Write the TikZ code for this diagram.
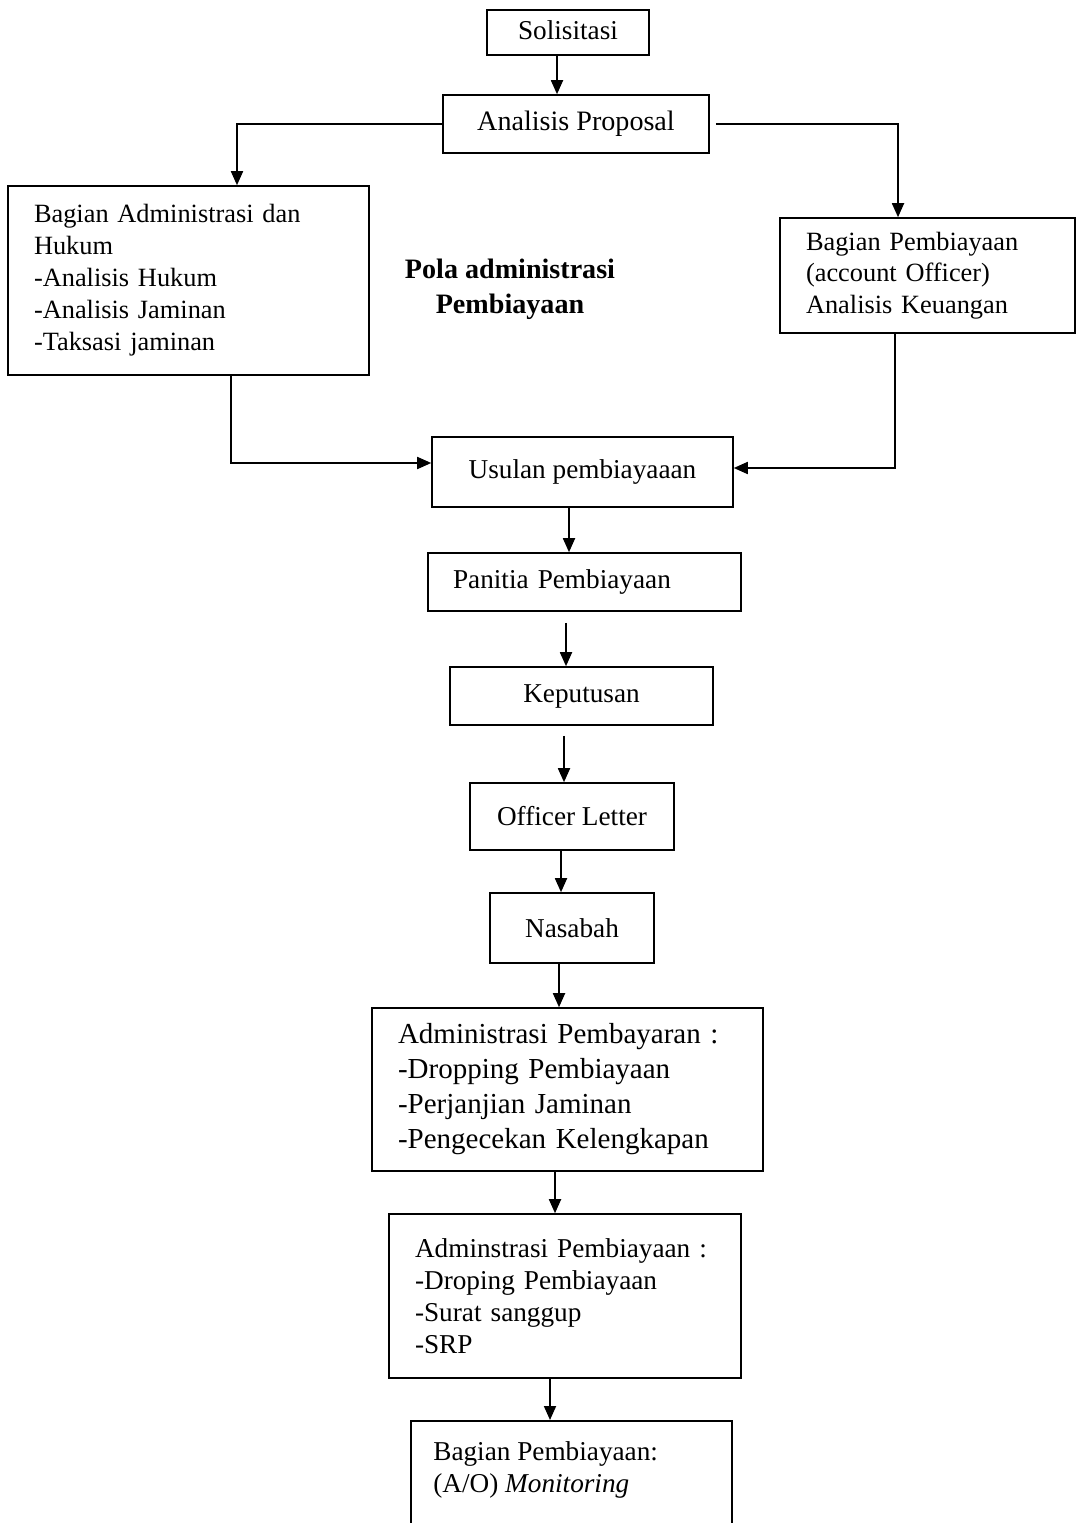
\documentclass[tikz,border=0pt]{standalone}
\usepackage{fontspec}
\setmainfont{Liberation Serif}
\usetikzlibrary{arrows.meta,calc,positioning}

\tikzset{
  box/.style={draw, line width=0.9pt, inner sep=0pt, font=\fontsize{15.5}{18}\selectfont},
  listbox/.style={box, align=left, inner xsep=0.52cm},
  arr/.style={line width=1pt, -{Triangle[length=0.28cm,width=0.24cm]}},
}

\begin{document}
\begin{tikzpicture}[x=0.02cm, y=-0.02cm]

\clip (0,0) rectangle (1077,1523);

% Top of the flow
\node[box, minimum width=3.24cm, minimum height=0.9cm, text depth=0.1cm] (solis) at (568,32.5) {Solisitasi};
\node[box, minimum width=5.32cm, minimum height=1.16cm, font=\fontsize{16}{18}\selectfont] (analisis) at (576,124) {Analisis Proposal};

% Left branch
\node[listbox, text width=6.18cm, minimum height=3.78cm, font=\fontsize{15}{18.2}\selectfont] (hukum) at (188.5,280.5)
  {Bagian Administrasi dan\\Hukum\\-Analisis Hukum\\-Analisis Jaminan\\-Taksasi jaminan};

% Right branch
\node[listbox, text width=4.86cm, minimum height=2.3cm, font=\fontsize{15}{17.8}\selectfont] (keuangan) at (927.5,275.5)
  {Bagian Pembiayaan\\(account Officer)\\Analisis Keuangan};

% Title
\node[align=center, font=\bfseries\fontsize{16}{20}\selectfont] (judul) at (510,289)
  {Pola administrasi\\Pembiayaan};

% Middle column
\node[box, minimum width=6.02cm, minimum height=1.4cm] (usulan) at (582.5,472) {Usulan pembiayaaan};
\node[listbox, inner xsep=0.5cm, text width=5.26cm, minimum height=1.16cm] (panitia) at (584.5,582) {Panitia Pembiayaan};
\node[box, minimum width=5.26cm, minimum height=1.16cm] (keputusan) at (581.5,696) {Keputusan};
\node[box, minimum width=4.08cm, minimum height=1.34cm] (officer) at (572,816.5) {Officer Letter};
\node[box, minimum width=3.28cm, minimum height=1.4cm] (nasabah) at (572,928) {Nasabah};

% Lower boxes
\node[listbox, text width=6.78cm, minimum height=3.26cm, font=\fontsize{16.5}{19.9}\selectfont] (pembayaran) at (567.5,1089.5)
  {Administrasi Pembayaran :\\-Dropping Pembiayaan\\-Perjanjian Jaminan\\-Pengecekan Kelengkapan};
\node[listbox, text width=6.0cm, minimum height=3.28cm, font=\fontsize{15.5}{18.2}\selectfont] (adminstrasi) at (565,1296)
  {Adminstrasi Pembiayaan :\\-Droping Pembiayaan\\-Surat sanggup\\-SRP};
\node[box, anchor=north west, minimum width=6.42cm, minimum height=3cm] (monitor) at (410,1420) {};
\node[anchor=north west, align=left, inner sep=0pt, font=\fontsize{15.5}{18.2}\selectfont] (monitorteks)
  at ([xshift=0.46cm,yshift=-0.42cm]monitor.north west)
  {Bagian Pembiayaan:\\(A/O) \textit{Monitoring}};

% Branch connectors
\draw[arr] (analisis.west) -| ([xshift=0.97cm]hukum.north);
\draw[arr] ([xshift=0.12cm]analisis.east) -| ([xshift=-0.59cm]keuangan.north);
\draw[arr] ([xshift=0.85cm]hukum.south) |- ([yshift=0.18cm]usulan.west);
\draw[arr] ([xshift=-0.65cm]keuangan.south) |- ([yshift=0.08cm]usulan.east);

% Vertical connectors
\foreach \a/\b/\dx/\dy in {solis/analisis/-0.22/0, usulan/panitia/-0.27/0,
    panitia/keputusan/-0.37/-0.22, keputusan/officer/-0.35/-0.2,
    officer/nasabah/-0.22/0, nasabah/pembayaran/-0.26/0,
    pembayaran/adminstrasi/-0.25/0, adminstrasi/monitor/-0.3/0}
{
  \path ([xshift=\dx cm, yshift=\dy cm]\a.south) coordinate (t);
  \draw[arr] (t) -- (t |- \b.north);
}

\end{tikzpicture}
\end{document}
